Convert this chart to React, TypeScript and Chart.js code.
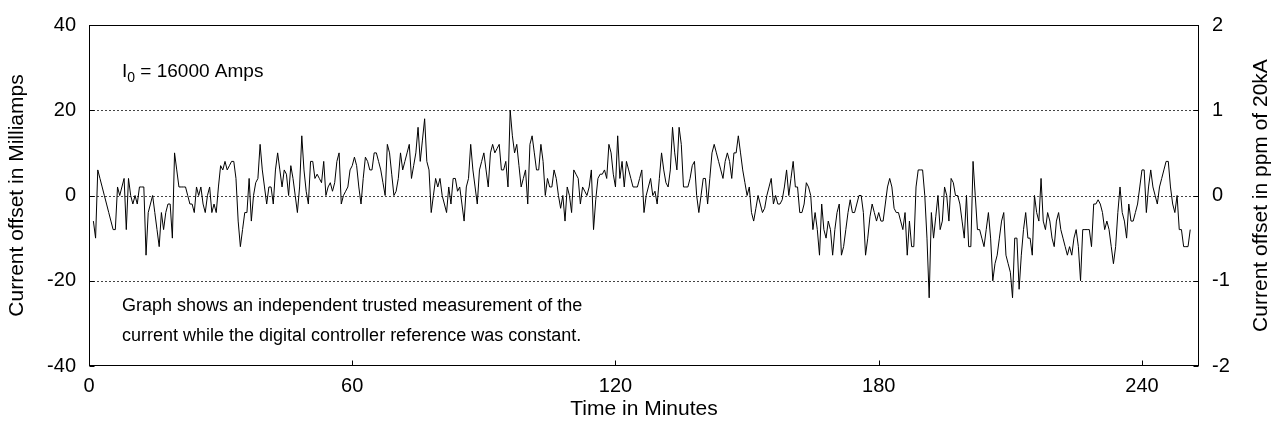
import React, { useEffect, useRef } from 'react';
import { Chart, registerables } from 'chart.js';

Chart.register(...registerables);

// ---- data ----
const startMinute = 1;
const stepMinutes = 0.5;
// current offset in milliamps, one value every half minute (rows of 5 minutes)
const offsetMilliamps = [
  -6, -10, 6, 4, 2, 0, -2, -4, -6, -8,
  -8, 2, 0, 2, 4, -8, 4, 0, -2, 0,
  -2, 2, 2, 2, -14, -4, -2, 0, -4, -8,
  -12, -4, -8, -4, -2, -2, -10, 10, 6, 2,
  2, 2, 2, 0, -2, -2, -4, 2, 0, 2,
  -2, -4, 0, 2, -4, -2, -4, 2, 7, 6,
  8, 6, 7, 8, 8, 4, -6, -12, -8, -4,
  -4, 4, -6, 0, 3, 4, 12, 6, 2, -2,
  2, 2, -2, 6, 10, 6, 2, 6, 5, 0,
  7, 4, 0, -4, 2, 14, 6, 1, -2, 8,
  8, 4, 5, 4, 3, 8, 0, 2, 3, 1,
  3, 8, 10, -2, 0, 1, 2, 6, 7, 9,
  7, 2, -2, 4, 9, 8, 6, 6, 10, 10,
  8, 6, 3, 0, 12, 10, 5, 0, 1, 4,
  10, 6, 8, 10, 12, 4, 7, 10, 16, 8,
  13, 18, 8, 6, -4, 0, 4, 2, 4, 0,
  -2, -4, 2, -2, 4, 4, 1, 2, -2, -6,
  2, 4, 12, 6, 2, -2, 6, 8, 10, 6,
  2, 10, 12, 10, 11, 12, 6, 6, 8, 2,
  20, 14, 10, 12, 7, 2, 4, 6, -2, 12,
  14, 10, 6, 6, 12, 8, 0, 4, 2, 2,
  6, 4, 0, -3, 0, -6, 2, 0, -4, 6,
  5, 4, -2, 2, 1, 0, 2, 6, -8, -1,
  4, 5, 5, 6, 4, 12, 10, 5, 2, 14,
  4, 8, 2, 8, 6, 4, 2, 2, 2, 4,
  6, -4, 0, 2, 4, 0, 1, -2, 4, 10,
  6, 3, 2, 6, 16, 10, 6, 16, 12, 2,
  2, 2, 4, 7, 8, 0, -4, 0, 4, 4,
  -2, 4, 10, 12, 10, 8, 6, 4, 8, 10,
  8, 4, 10, 10, 14, 10, 6, 3, 0, 2,
  -4, -6, -3, 0, -2, -4, -3, 0, 2, 4,
  -2, 0, -2, -2, -1, 2, 6, 0, 4, 8,
  2, 2, -4, -4, -2, 3, 2, 0, -8, -4,
  -8, -14, -2, -8, -10, -6, -8, -14, -8, -4,
  -2, -14, -12, -8, -4, -1, -4, -4, -2, 0,
  0, -4, -14, -10, -5, -2, -4, -6, -4, -6,
  -6, -2, 2, 4, 2, -3, -4, -4, -6, -8,
  -4, -14, -6, -12, -12, 2, 6, 6, 6, 0,
  -10, -24, -4, -10, -5, 0, -8, -6, 2, 0,
  -6, 4, 3, 0, 0, -2, -6, -10, 0, -12,
  -12, 8, 0, -8, -8, -10, -12, -8, -4, -10,
  -20, -16, -14, -10, -6, -4, -14, -16, -18, -24,
  -10, -10, -22, -14, -8, -4, -10, -10, -14, 0,
  -4, -6, 4, -6, -8, -4, -6, -10, -12, -6,
  -4, -8, -10, -12, -14, -12, -14, -10, -8, -12,
  -20, -8, -8, -8, -8, -12, -2, -2, -1, -2,
  -4, -8, -6, -8, -12, -16, -12, -4, 2, -4,
  -6, -10, -2, -6, -6, -4, -2, 2, 6, 6,
  -4, 2, 6, 2, 0, -2, 2, 4, 6, 8,
  8, 2, -2, -4, 0, -8, -8, -12, -12, -12,
  -8,
];

const xMin = 0;
const xMax = 253;
const xTickValues = [0, 60, 120, 180, 240];
const yTickValues = [-40, -20, 0, 20, 40];
const y2TickValues = [-2, -1, 0, 1, 2];
const gridValues = [-20, 0, 20];

const xTitle = 'Time in Minutes';
const yTitle = 'Current offset in Milliamps';
const y2Title = 'Current offset in ppm of 20kA';
const currentLabelMain = 'I';
const currentLabelSub = '0';
const currentLabelRest = ' = 16000 Amps';
const noteLines = [
  'Graph shows an independent trusted measurement of the',
  'current while the digital controller reference was constant.',
];

const FONT = '"Liberation Sans", Arial, Helvetica, sans-serif';
const TICK_SIZE = 20;
const TITLE_SIZE = 21;
const LABEL_SIZE = 19;
const NOTE_SIZE = 18;

const decorPlugin = {
  id: 'decor',
  beforeDatasetsDraw(chart: any) {
    const { ctx, chartArea: a, scales } = chart;
    ctx.save();
    ctx.strokeStyle = '#444';
    ctx.lineWidth = 1;
    ctx.setLineDash([2, 2]);
    gridValues.forEach((v) => {
      const y = Math.round(scales.y.getPixelForValue(v)) + 0.5;
      ctx.beginPath();
      ctx.moveTo(a.left, y);
      ctx.lineTo(a.right, y);
      ctx.stroke();
    });
    ctx.restore();
  },
  afterDatasetsDraw(chart: any) {
    const { ctx, chartArea: a, scales } = chart;
    const L = Math.round(a.left) + 0.5;
    const R = Math.round(a.right) - 0.5;
    const T = Math.round(a.top) + 0.5;
    const B = Math.round(a.bottom) - 0.5;
    ctx.save();
    ctx.strokeStyle = '#000';
    ctx.lineWidth = 1;
    ctx.setLineDash([]);
    ctx.strokeRect(L, T, R - L, B - T);
    const tl = 5;
    ctx.beginPath();
    xTickValues.forEach((v) => {
      const x = Math.round(scales.x.getPixelForValue(v)) + 0.5;
      ctx.moveTo(x, B);
      ctx.lineTo(x, B - tl);
    });
    yTickValues.forEach((v) => {
      const y = Math.round(scales.y.getPixelForValue(v)) + 0.5;
      ctx.moveTo(L, y);
      ctx.lineTo(L + tl, y);
    });
    y2TickValues.forEach((v) => {
      const y = Math.round(scales.y2.getPixelForValue(v)) + 0.5;
      ctx.moveTo(R, y);
      ctx.lineTo(R - tl, y);
    });
    ctx.stroke();

    ctx.fillStyle = '#000';
    // axis titles
    ctx.font = `${TITLE_SIZE}px ${FONT}`;
    ctx.textAlign = 'center';
    ctx.textBaseline = 'middle';
    ctx.fillText(xTitle, (a.left + a.right) / 2, 409);
    const midY = (a.top + a.bottom) / 2;
    ctx.save();
    ctx.translate(17, midY);
    ctx.rotate(-Math.PI / 2);
    ctx.fillText(yTitle, 0, 0);
    ctx.restore();
    ctx.save();
    ctx.translate(1261, midY);
    ctx.rotate(-Math.PI / 2);
    ctx.fillText(y2Title, 0, 0);
    ctx.restore();

    // current label
    ctx.textAlign = 'left';
    ctx.textBaseline = 'alphabetic';
    let x = 122;
    const base = 77;
    ctx.font = `${LABEL_SIZE}px ${FONT}`;
    ctx.fillText(currentLabelMain, x, base);
    x += ctx.measureText(currentLabelMain).width;
    ctx.font = `${Math.round(LABEL_SIZE * 0.75)}px ${FONT}`;
    ctx.fillText(currentLabelSub, x, base + 5);
    x += ctx.measureText(currentLabelSub).width;
    ctx.font = `${LABEL_SIZE}px ${FONT}`;
    ctx.fillText(currentLabelRest, x, base);

    // note lines
    ctx.font = `${NOTE_SIZE}px ${FONT}`;
    ctx.textBaseline = 'middle';
    noteLines.forEach((line, i) => {
      ctx.fillText(line, 122, 306 + i * 30);
    });
    ctx.restore();
  },
};

export default function App() {
  const canvasRef = useRef<HTMLCanvasElement | null>(null);

  useEffect(() => {
    const canvas = canvasRef.current;
    if (!canvas) return;
    const points = offsetMilliamps.map((v, i) => ({ x: startMinute + i * stepMinutes, y: v }));
    const tickFont = { family: FONT, size: TICK_SIZE };
    const chart = new Chart(canvas, {
      type: 'line',
      data: {
        datasets: [
          {
            data: points,
            borderColor: '#000',
            borderWidth: 1,
            pointRadius: 0,
            tension: 0,
            fill: false,
            yAxisID: 'y',
            xAxisID: 'x',
          },
        ],
      },
      options: {
        responsive: false,
        animation: false,
        devicePixelRatio: 1,
        layout: { padding: { top: 19, left: 0, right: 0, bottom: 0 } },
        plugins: { legend: { display: false }, tooltip: { enabled: false } },
        scales: {
          x: {
            type: 'linear',
            position: 'bottom',
            min: xMin,
            max: xMax,
            grid: { display: false, drawTicks: false },
            border: { display: false },
            ticks: { color: '#000', font: tickFont, padding: 8, maxRotation: 0, autoSkip: false, callback: (v: any) => String(v) },
            afterBuildTicks: (s: any) => { s.ticks = xTickValues.map((v) => ({ value: v })); },
            afterFit: (s: any) => { s.height = 62; },
          },
          y: {
            type: 'linear',
            position: 'left',
            min: -40,
            max: 40,
            grid: { display: false, drawTicks: false },
            border: { display: false },
            ticks: { color: '#000', font: tickFont, padding: 13, callback: (v: any) => String(v) },
            afterBuildTicks: (s: any) => { s.ticks = yTickValues.map((v) => ({ value: v })); },
            afterFit: (s: any) => { s.width = 89; },
          },
          y2: {
            type: 'linear',
            position: 'right',
            min: -2,
            max: 2,
            grid: { display: false, drawTicks: false },
            border: { display: false },
            ticks: { color: '#000', font: tickFont, padding: 13, callback: (v: any) => String(v) },
            afterBuildTicks: (s: any) => { s.ticks = y2TickValues.map((v) => ({ value: v })); },
            afterFit: (s: any) => { s.width = 76; },
          },
        },
      },
      plugins: [decorPlugin],
    } as any);
    return () => chart.destroy();
  }, []);

  return (
    <div style={{ position: 'fixed', left: 0, top: 0, width: 1275, height: 428, background: '#fff' }}>
      <canvas ref={canvasRef} width={1275} height={428} style={{ display: 'block' }} />
    </div>
  );
}
